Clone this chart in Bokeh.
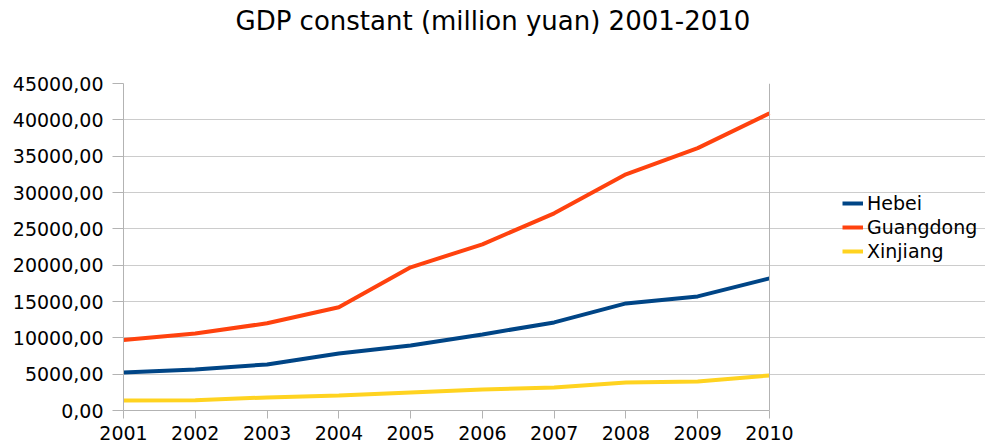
from bokeh.plotting import figure
from bokeh.models import FixedTicker, Legend, LegendItem, Range1d, LinearAxis, Span, Title
from bokeh.embed import file_html
from bokeh.resources import INLINE

years = [2001, 2002, 2003, 2004, 2005, 2006, 2007, 2008, 2009, 2010]
hebei = [5230, 5650, 6340, 7850, 8950, 10470, 12120, 14740, 15700, 18180]
guangdong = [9700, 10600, 12000, 14200, 19700, 22870, 27130, 32500, 36100, 40900]
xinjiang = [1380, 1400, 1800, 2070, 2480, 2890, 3170, 3860, 4000, 4820]
series_names = ["Hebei", "Guangdong", "Xinjiang"]
y_ticks = [0, 5000, 10000, 15000, 20000, 25000, 30000, 35000, 40000, 45000]
y_tick_labels = ["0,00", "5000,00", "10000,00", "15000,00", "20000,00",
                 "25000,00", "30000,00", "35000,00", "40000,00", "45000,00"]
title_text = "GDP constant (million yuan) 2001-2010"

FONT = "DejaVu Sans"
colors = ["#004586", "#ff420e", "#ffd320"]
grey = "#b3b3b3"

# the frame spans the legend area too; the data area ends at 2010
x_end = years[-1] + (years[-1] - years[0]) * 216 / 646

p = figure(width=985, height=448, output_backend="svg", toolbar_location=None,
           x_range=Range1d(years[0], x_end), y_range=Range1d(y_ticks[0], y_ticks[-1]),
           min_border_left=123, min_border_right=0, min_border_top=83,
           min_border_bottom=38)
p.title.text = ""

renderers = []
for data, c in zip([hebei, guangdong, xinjiang], colors):
    r = p.line(years, data, line_color=c, line_width=4)
    renderers.append(r)

xax = p.xaxis[0]
yax = p.yaxis[0]
xax.ticker = FixedTicker(ticks=years)
xax.bounds = (years[0], years[-1])
yax.ticker = FixedTicker(ticks=y_ticks)
yax.major_label_overrides = {t: s for t, s in zip(y_ticks, y_tick_labels)}
for ax in (xax, yax):
    ax.axis_line_color = grey
    ax.major_tick_line_color = grey
    ax.minor_tick_line_color = None
    ax.major_tick_in = 0
    ax.major_label_text_font = FONT
    ax.major_label_text_font_size = "19px"
    ax.major_label_text_color = "#000000"
xax.major_tick_out = 8
xax.major_label_standoff = 7
yax.major_tick_out = 11
yax.major_label_standoff = 9

p.xgrid.grid_line_color = None
p.ygrid.grid_line_color = "#cccccc"
p.ygrid.bounds = (years[0], years[-1])
p.outline_line_color = None
p.add_layout(Span(location=years[-1], dimension="height", line_color=grey, line_width=1))

# invisible spacer between frame and title
spacer = LinearAxis(ticker=FixedTicker(ticks=[years[0]]), axis_line_color=None,
                    major_tick_line_color=None, minor_tick_line_color=None,
                    major_tick_out=48, major_tick_in=0, minor_tick_out=0,
                    major_label_standoff=0, major_label_text_alpha=0,
                    major_label_text_font_size="1px",
                    major_label_overrides={years[0]: " "})
p.add_layout(spacer, "above")

title = Title(text=title_text, align="left", offset=112, standoff=0,
              text_font=FONT, text_font_size="26px", text_font_style="normal",
              text_color="#000000")
p.add_layout(title, "above")

legend = Legend(items=[LegendItem(label=n, renderers=[r]) for n, r in zip(series_names, renderers)],
                location=(719, 147))
legend.label_text_font = FONT
legend.label_text_font_size = "19px"
legend.label_text_color = "#000000"
legend.glyph_width = 21
legend.glyph_height = 24
legend.label_height = 24
legend.label_standoff = 4
legend.spacing = 0
legend.padding = 0
legend.margin = 0
legend.border_line_alpha = 0
legend.background_fill_alpha = 0
p.add_layout(legend, "center")

open("out.html", "w").write(file_html(p, INLINE))
